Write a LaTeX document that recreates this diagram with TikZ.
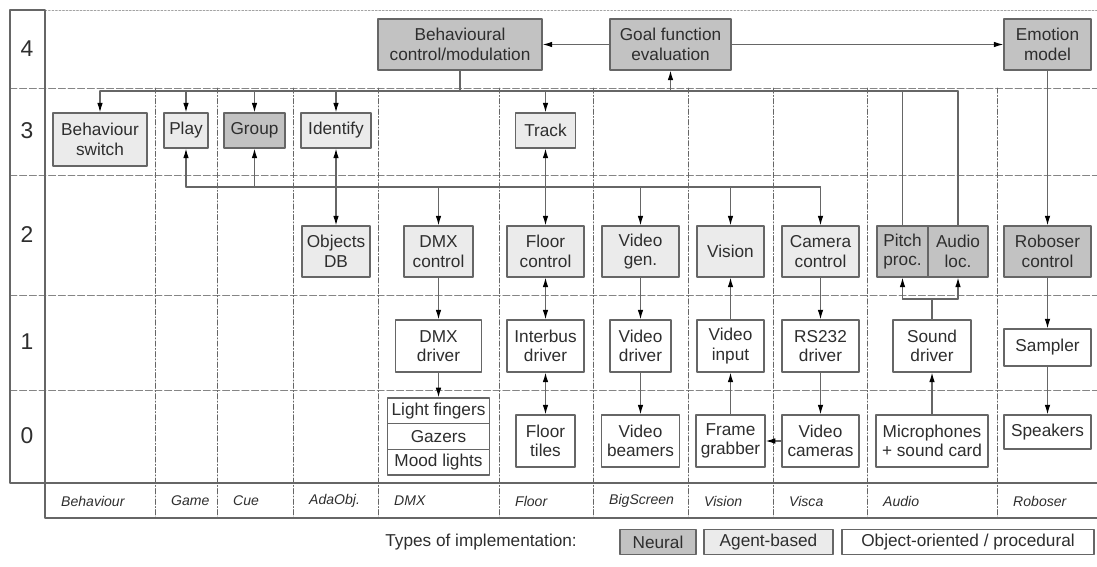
\documentclass[tikz,border=0pt]{standalone}
\usepackage{fontspec}
\setmainfont{Liberation Sans}
\usetikzlibrary{arrows.meta}
\definecolor{neural}{HTML}{C2C2C2}
\definecolor{agent}{HTML}{EBEBEB}
\definecolor{edge}{HTML}{666666}
\definecolor{ink}{HTML}{2E2E2E}
\newcommand\pxu{0.02cm}
\tikzset{
  wh/.style 2 args={minimum width=#1*\pxu,minimum height=#2*\pxu},
  blk/.style={draw=edge,line width=0.65pt,text=ink,align=center,inner sep=1pt},
  neu/.style={blk,fill=neural},
  agt/.style={blk,fill=agent},
  oop/.style={blk,fill=white},
  wire/.style={draw=edge,line width=0.65pt},
  tip/.style={wire,-{Latex[length=5.5pt,width=3.2pt,color=black]}},
  tipboth/.style={wire,{Latex[length=5.5pt,width=3.2pt,color=black]}-{Latex[length=5.5pt,width=3.2pt,color=black]}},
  frame/.style={draw=edge,line width=0.65pt},
  rowline/.style={draw=edge!80,line width=0.5pt,dash pattern=on 4pt off 1.5pt},
  colline/.style={draw=edge,line width=0.5pt,dash pattern=on 3pt off 1.2pt on 0.6pt off 1.2pt},
  topline/.style={draw=edge!60,line width=0.5pt,dash pattern=on 1pt off 1pt},
  rowlab/.style={text=ink,font=\fontsize{13}{15}\selectfont},
  collab/.style={text=ink,anchor=west,font=\fontsize{8}{9}\selectfont\itshape},
}
\begin{document}
\begin{tikzpicture}[x=\pxu,y=-\pxu,line join=round,line cap=round,font=\fontsize{9.8}{11.2}\selectfont]
\useasboundingbox (0,0) rectangle (1097,567);
%%%%%%%%%%%%%%% grid
\draw[topline] (45,10) -- (1097,10);
\foreach \y in {88,175,295,390} \draw[rowline] (10,\y) -- (1097,\y);
\foreach \x in {155,217,293,378,499,593,688,773,867,997} \draw[colline] (\x,88) -- (\x,518);
\draw[frame] (1097,483) -- (10,483) -- (10,10) -- (45,10) -- (45,518) -- (1097,518);
\foreach \n/\y in {4/49,3/131,2/235,1/342,0/436} \node[rowlab] (lev\n) at (27,\y) {\n};
\foreach \x/\t [count=\i] in {55/Behaviour,165/Game,227/Cue,303/AdaObj.,388/DMX,509/Floor,603/BigScreen,698/Vision,783/Visca,877/Audio,1007/Roboser}
  \node[collab] (col\i) at (\x,501) {\t};
%%%%%%%%%%%%%%% level 4
\node[neu,wh={164}{51}] (bcm) at (460,44.5) {Behavioural\\control/modulation};
\node[neu,wh={121}{51}] (gfe) at (670.5,44.5) {Goal function\\evaluation};
\node[neu,wh={87}{51}] (emo) at (1047.5,44.5) {Emotion\\model};
%%%%%%%%%%%%%%% level 3
\node[agt,wh={94}{53}] (bsw) at (100,139.5) {Behaviour\\switch};
\node[agt,wh={44}{35}] (play) at (186,130.5) {Play};
\node[neu,wh={61}{35}] (group) at (254.5,130.5) {Group};
\node[agt,wh={70}{35}] (ident) at (336,130.5) {Identify};
\node[agt,wh={60}{35}] (track) at (545.5,130.5) {Track};
%%%%%%%%%%%%%%% level 2
\node[agt,wh={68}{51}] (objdb) at (336,251.5) {Objects\\DB};
\node[agt,wh={69}{51}] (dmxc) at (438.5,251.5) {DMX\\control};
\node[agt,wh={77}{51}] (floorc) at (545.5,251.5) {Floor\\control};
\node[agt,wh={77}{51}] (vgen) at (640.5,251.5) {Video\\gen.};
\node[agt,wh={67}{51}] (vision) at (730.5,251.5) {Vision};
\node[agt,wh={77}{51}] (camc) at (820.5,251.5) {Camera\\control};
\node[neu,wh={51}{51}] (pitch) at (902.5,251.5) {Pitch\\proc.};
\node[neu,wh={60}{51}] (aloc) at (958,251.5) {Audio\\loc.};
\node[neu,wh={87}{51}] (robc) at (1047.5,251.5) {Roboser\\control};
%%%%%%%%%%%%%%% level 1
\node[oop,wh={86}{52}] (dmxd) at (438.5,346) {DMX\\driver};
\node[oop,wh={77}{52}] (ibus) at (545.5,346) {Interbus\\driver};
\node[oop,wh={61}{52}] (vdrv) at (640.5,346) {Video\\driver};
\node[oop,wh={67}{52}] (vin) at (730.5,346) {Video\\input};
\node[oop,wh={77}{52}] (rs232) at (820.5,346) {RS232\\driver};
\node[oop,wh={78}{52}] (sndd) at (932,346) {Sound\\driver};
\node[oop,wh={87}{37}] (sampler) at (1047.5,347.5) {Sampler};
%%%%%%%%%%%%%%% level 0
\node[oop,wh={102}{25.7}] (lf) at (438.5,410.8) {Light fingers};
\node[oop,wh={102}{25.7}] (gz) at (438.5,436.5) {Gazers};
\node[oop,wh={102}{25.7}] (ml) at (438.5,462.2) {Mood lights};
\node[oop,wh={59}{52}] (ftiles) at (545.5,441) {Floor\\tiles};
\node[oop,wh={78}{52}] (vbeam) at (640.5,441) {Video\\beamers};
\node[oop,wh={69}{52}] (fgrab) at (730.5,441) {Frame\\grabber};
\node[oop,wh={77}{52}] (vcam) at (820.5,441) {Video\\cameras};
\node[oop,wh={112}{52}] (mic) at (932,441) {Microphones\\+ sound card};
\node[oop,wh={87}{34}] (spk) at (1047.5,432) {Speakers};
%%%%%%%%%%%%%%% connectors
\coordinate (busA) at (460,91);
\coordinate (busB) at (186,187);
\coordinate (split) at (932,299);
\draw[tip] (gfe) -- (bcm);
\draw[tip] (gfe) -- (emo);
\draw[wire] (bcm) -- (bcm.south |- busA);
\draw[wire] (bsw.north |- busA) -- (aloc.north |- busA);
\foreach \n in {bsw,play,group,ident,track} \draw[tip] (\n.north |- busA) -- (\n.north);
\draw[tip] (gfe.south |- busA) -- (gfe.south);
\draw[wire] (pitch) -- (pitch.north |- busA);
\draw[wire] (aloc) -- (aloc.north |- busA);
\draw[wire] (play.south |- busB) -- (camc.north |- busB);
\foreach \n in {play,group} \draw[tip] (\n.south |- busB) -- (\n.south);
\foreach \n in {dmxc,vgen,vision,camc} \draw[tip] (\n.north |- busB) -- (\n.north);
\draw[tipboth] (ident) -- (objdb);
\draw[tipboth] (track) -- (floorc);
\draw[tipboth] (floorc) -- (ibus);
\draw[tipboth] (ibus) -- (ftiles);
\draw[tip] (dmxc) -- (dmxd);
\draw[tip] (dmxd) -- (lf);
\draw[tip] (vgen) -- (vdrv);
\draw[tip] (vdrv) -- (vbeam);
\draw[tip] (fgrab) -- (vin);
\draw[tip] (vin) -- (vision);
\draw[tip] (camc) -- (rs232);
\draw[tip] (rs232) -- (vcam);
\draw[tip] (vcam) -- (fgrab);
\draw[tip] (mic) -- (sndd);
\draw[wire] (sndd) -- (split);
\draw[wire] (pitch.south |- split) -- (aloc.south |- split);
\draw[tip] (pitch.south |- split) -- (pitch.south);
\draw[tip] (aloc.south |- split) -- (aloc.south);
\draw[tip] (emo) -- (robc);
\draw[tip] (robc) -- (sampler);
\draw[tip] (sampler) -- (spk);
%%%%%%%%%%%%%%% legend
\node[text=ink,anchor=east] (legt) at (583,542) {Types of implementation:};
\node[neu,wh={76}{25}] (legn) at (658,542) {Neural};
\node[agt,wh={129}{25}] (lega) at (768.5,542) {Agent-based};
\node[oop,wh={252}{25}] (lego) at (968,542) {Object-oriented / procedural};
\end{tikzpicture}
\end{document}
